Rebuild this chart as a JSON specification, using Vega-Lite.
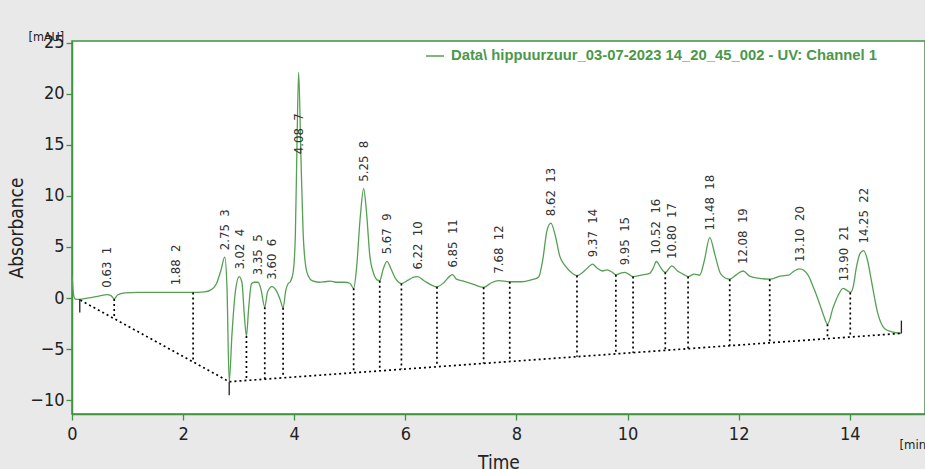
{
  "$schema": "https://vega.github.io/schema/vega-lite/v6.json",
  "width": 853,
  "height": 373,
  "autosize": {"type": "none"},
  "padding": {"left": 72, "top": 41, "right": 0, "bottom": 55},
  "background": "#e9e9e9",
  "config": {
    "view": {"fill": "white", "stroke": "#3f943f", "strokeWidth": 1.5},
    "axis": {
      "grid": false,
      "domainColor": "#3f943f",
      "domainWidth": 1.5,
      "tickColor": "#3f943f",
      "tickSize": 6,
      "tickWidth": 1.3,
      "labelFont": "DejaVu Sans Condensed, DejaVu Sans",
      "labelFontSize": 18,
      "labelColor": "#222222",
      "titleFont": "DejaVu Sans Condensed, DejaVu Sans",
      "titleFontSize": 19,
      "titleFontWeight": "normal",
      "titleColor": "#222222"
    }
  },
  "datasets": {
    "trace": [
      {"t": 0.0, "a": 2.2}, {"t": 0.03, "a": 0.3}, {"t": 0.06, "a": -0.1}, {"t": 0.12, "a": -0.12},
      {"t": 0.3, "a": 0.02}, {"t": 0.5, "a": 0.22}, {"t": 0.63, "a": 0.33}, {"t": 0.7, "a": 0.25},
      {"t": 0.76, "a": -0.08}, {"t": 0.82, "a": 0.3}, {"t": 0.95, "a": 0.5}, {"t": 1.2, "a": 0.56},
      {"t": 1.5, "a": 0.56}, {"t": 1.88, "a": 0.56}, {"t": 2.18, "a": 0.55}, {"t": 2.38, "a": 0.6},
      {"t": 2.5, "a": 0.8}, {"t": 2.6, "a": 1.4}, {"t": 2.68, "a": 2.7}, {"t": 2.75, "a": 4.0},
      {"t": 2.79, "a": 1.0}, {"t": 2.83, "a": -8.18}, {"t": 2.88, "a": -3.5}, {"t": 2.94, "a": 0.6},
      {"t": 3.01, "a": 2.1}, {"t": 3.06, "a": 1.5}, {"t": 3.1, "a": -1.5}, {"t": 3.14, "a": -3.7},
      {"t": 3.18, "a": -1.0}, {"t": 3.23, "a": 1.4}, {"t": 3.28, "a": 1.55}, {"t": 3.35, "a": 1.55},
      {"t": 3.4, "a": 0.9}, {"t": 3.47, "a": -0.9}, {"t": 3.52, "a": 0.6}, {"t": 3.6, "a": 1.12},
      {"t": 3.68, "a": 0.7}, {"t": 3.75, "a": -0.2}, {"t": 3.8, "a": -0.95}, {"t": 3.85, "a": 0.8},
      {"t": 3.89, "a": 1.4}, {"t": 3.93, "a": 1.6}, {"t": 3.98, "a": 2.5}, {"t": 4.02, "a": 6.0},
      {"t": 4.05, "a": 15.0}, {"t": 4.08, "a": 22.1}, {"t": 4.12, "a": 14.0}, {"t": 4.16, "a": 6.5},
      {"t": 4.21, "a": 3.0}, {"t": 4.26, "a": 2.1}, {"t": 4.32, "a": 1.7}, {"t": 4.45, "a": 1.55},
      {"t": 4.55, "a": 1.6}, {"t": 4.65, "a": 1.65}, {"t": 4.75, "a": 1.55}, {"t": 4.9, "a": 1.55},
      {"t": 5.0, "a": 1.45}, {"t": 5.07, "a": 0.95}, {"t": 5.12, "a": 2.8}, {"t": 5.19, "a": 8.0},
      {"t": 5.25, "a": 10.7}, {"t": 5.3, "a": 8.5}, {"t": 5.36, "a": 4.2}, {"t": 5.43, "a": 2.4},
      {"t": 5.5, "a": 1.75}, {"t": 5.54, "a": 1.7}, {"t": 5.6, "a": 2.8}, {"t": 5.67, "a": 3.6},
      {"t": 5.74, "a": 2.9}, {"t": 5.82, "a": 1.95}, {"t": 5.93, "a": 1.42}, {"t": 6.05, "a": 1.75},
      {"t": 6.15, "a": 2.05}, {"t": 6.22, "a": 2.1}, {"t": 6.35, "a": 1.65}, {"t": 6.5, "a": 1.2},
      {"t": 6.57, "a": 1.1}, {"t": 6.7, "a": 1.55}, {"t": 6.8, "a": 2.15}, {"t": 6.85, "a": 2.3},
      {"t": 6.92, "a": 1.85}, {"t": 7.05, "a": 1.65}, {"t": 7.2, "a": 1.4}, {"t": 7.3, "a": 1.2},
      {"t": 7.41, "a": 1.05}, {"t": 7.55, "a": 1.5}, {"t": 7.68, "a": 1.7}, {"t": 7.88, "a": 1.6},
      {"t": 8.1, "a": 1.6}, {"t": 8.25, "a": 1.75}, {"t": 8.4, "a": 2.05}, {"t": 8.47, "a": 3.6},
      {"t": 8.55, "a": 6.6}, {"t": 8.62, "a": 7.33}, {"t": 8.7, "a": 6.1}, {"t": 8.78, "a": 4.1},
      {"t": 8.88, "a": 3.15}, {"t": 9.0, "a": 2.45}, {"t": 9.09, "a": 2.2}, {"t": 9.2, "a": 2.55},
      {"t": 9.3, "a": 3.05}, {"t": 9.37, "a": 3.32}, {"t": 9.45, "a": 2.95}, {"t": 9.55, "a": 2.65},
      {"t": 9.63, "a": 2.75}, {"t": 9.72, "a": 2.55}, {"t": 9.79, "a": 2.28}, {"t": 9.88, "a": 2.45},
      {"t": 9.95, "a": 2.52}, {"t": 10.02, "a": 2.35}, {"t": 10.1, "a": 2.1}, {"t": 10.25, "a": 2.25},
      {"t": 10.4, "a": 2.42}, {"t": 10.46, "a": 2.9}, {"t": 10.52, "a": 3.58}, {"t": 10.6, "a": 2.95},
      {"t": 10.68, "a": 2.52}, {"t": 10.8, "a": 3.15}, {"t": 10.9, "a": 2.65}, {"t": 11.0, "a": 2.35},
      {"t": 11.09, "a": 2.1}, {"t": 11.2, "a": 2.35}, {"t": 11.3, "a": 2.25}, {"t": 11.38, "a": 3.6},
      {"t": 11.48, "a": 5.92}, {"t": 11.58, "a": 4.1}, {"t": 11.68, "a": 2.35}, {"t": 11.84, "a": 1.85},
      {"t": 11.95, "a": 2.25}, {"t": 12.08, "a": 2.65}, {"t": 12.2, "a": 2.15}, {"t": 12.35, "a": 1.95},
      {"t": 12.56, "a": 1.85}, {"t": 12.75, "a": 2.15}, {"t": 12.9, "a": 2.25}, {"t": 13.0, "a": 2.65},
      {"t": 13.1, "a": 2.85}, {"t": 13.25, "a": 2.25}, {"t": 13.35, "a": 1.0}, {"t": 13.46, "a": -0.6},
      {"t": 13.53, "a": -1.7}, {"t": 13.6, "a": -2.55}, {"t": 13.7, "a": -0.95}, {"t": 13.79, "a": 0.25},
      {"t": 13.88, "a": 0.95}, {"t": 13.95, "a": 0.75}, {"t": 14.01, "a": 0.55}, {"t": 14.06, "a": 1.05},
      {"t": 14.12, "a": 3.0}, {"t": 14.18, "a": 4.3}, {"t": 14.25, "a": 4.65}, {"t": 14.32, "a": 3.7},
      {"t": 14.39, "a": 1.7}, {"t": 14.51, "a": -1.6}, {"t": 14.63, "a": -3.0}, {"t": 14.76, "a": -3.3},
      {"t": 14.93, "a": -3.45}
    ],
    "baseline": [
      {"t": 0.15, "a": -0.2}, {"t": 2.83, "a": -8.18}, {"t": 14.93, "a": -3.45}
    ],
    "drops": [
      {"t": 0.76, "top": -0.08, "base": -2.04},
      {"t": 2.18, "top": 0.55, "base": -6.22},
      {"t": 3.14, "top": -3.7, "base": -8.04},
      {"t": 3.47, "top": -0.9, "base": -7.92},
      {"t": 3.8, "top": -0.95, "base": -7.79},
      {"t": 5.07, "top": 0.95, "base": -7.29},
      {"t": 5.54, "top": 1.7, "base": -7.11},
      {"t": 5.93, "top": 1.42, "base": -6.96},
      {"t": 6.57, "top": 1.1, "base": -6.71},
      {"t": 7.41, "top": 1.05, "base": -6.39},
      {"t": 7.88, "top": 1.6, "base": -6.2},
      {"t": 9.09, "top": 2.2, "base": -5.74},
      {"t": 9.79, "top": 2.28, "base": -5.46},
      {"t": 10.1, "top": 2.1, "base": -5.34},
      {"t": 10.68, "top": 2.52, "base": -5.12},
      {"t": 11.09, "top": 2.1, "base": -4.96},
      {"t": 11.84, "top": 1.85, "base": -4.67},
      {"t": 12.56, "top": 1.85, "base": -4.39},
      {"t": 13.6, "top": -2.55, "base": -3.99},
      {"t": 14.01, "top": 0.55, "base": -3.83}
    ],
    "ticks": [
      {"t": 0.14, "top": -0.1, "base": -1.4},
      {"t": 2.83, "top": -8.18, "base": -9.5},
      {"t": 14.93, "top": -2.2, "base": -3.45}
    ],
    "peaks": [
      {"peak": 1, "time": 0.63, "apex": 0.33, "label": "0.63\u00a0\u00a01"},
      {"peak": 2, "time": 1.88, "apex": 0.56, "label": "1.88\u00a0\u00a02"},
      {"peak": 3, "time": 2.75, "apex": 4.0, "label": "2.75\u00a0\u00a03"},
      {"peak": 4, "time": 3.02, "apex": 2.1, "label": "3.02\u00a0\u00a04"},
      {"peak": 5, "time": 3.35, "apex": 1.55, "label": "3.35\u00a0\u00a05"},
      {"peak": 6, "time": 3.6, "apex": 1.12, "label": "3.60\u00a0\u00a06"},
      {"peak": 7, "time": 4.08, "apex": 22.1, "label": "4.08\u00a0\u00a07"},
      {"peak": 8, "time": 5.25, "apex": 10.7, "label": "5.25\u00a0\u00a08"},
      {"peak": 9, "time": 5.67, "apex": 3.6, "label": "5.67\u00a0\u00a09"},
      {"peak": 10, "time": 6.22, "apex": 2.1, "label": "6.22\u00a0\u00a010"},
      {"peak": 11, "time": 6.85, "apex": 2.3, "label": "6.85\u00a0\u00a011"},
      {"peak": 12, "time": 7.68, "apex": 1.7, "label": "7.68\u00a0\u00a012"},
      {"peak": 13, "time": 8.62, "apex": 7.33, "label": "8.62\u00a0\u00a013"},
      {"peak": 14, "time": 9.37, "apex": 3.32, "label": "9.37\u00a0\u00a014"},
      {"peak": 15, "time": 9.95, "apex": 2.52, "label": "9.95\u00a0\u00a015"},
      {"peak": 16, "time": 10.52, "apex": 3.58, "label": "10.52\u00a0\u00a016"},
      {"peak": 17, "time": 10.8, "apex": 3.15, "label": "10.80\u00a0\u00a017"},
      {"peak": 18, "time": 11.48, "apex": 5.92, "label": "11.48\u00a0\u00a018"},
      {"peak": 19, "time": 12.08, "apex": 2.65, "label": "12.08\u00a0\u00a019"},
      {"peak": 20, "time": 13.1, "apex": 2.85, "label": "13.10\u00a0\u00a020"},
      {"peak": 21, "time": 13.9, "apex": 0.95, "label": "13.90\u00a0\u00a021"},
      {"peak": 22, "time": 14.25, "apex": 4.65, "label": "14.25\u00a0\u00a022"}
    ]
  },
  "layer": [
    {
      "data": {"name": "trace"},
      "mark": {"type": "line", "interpolate": "monotone", "strokeWidth": 1.3},
      "encoding": {
        "x": {
          "field": "t", "type": "quantitative",
          "scale": {"domain": [0, 15.355], "nice": false, "zero": false},
          "axis": {"values": [0, 2, 4, 6, 8, 10, 12, 14], "title": "Time", "labelPadding": 5, "titlePadding": 10, "labelFlush": false}
        },
        "y": {
          "field": "a", "type": "quantitative",
          "scale": {"domain": [-11.34, 25.15], "nice": false, "zero": false},
          "axis": {"values": [-10, -5, 0, 5, 10, 15, 20, 25], "title": "Absorbance", "labelPadding": 2, "titlePadding": 3}
        },
        "color": {
          "datum": "Data\\ hippuurzuur_03-07-2023 14_20_45_002 - UV: Channel 1",
          "scale": {"range": ["#55a055"]},
          "legend": {
            "orient": "none", "legendX": 353, "legendY": 5, "title": null, "padding": 0,
            "symbolType": "stroke", "symbolSize": 324, "symbolStrokeWidth": 1.5,
            "labelFont": "Liberation Sans", "labelFontSize": 14.8, "labelFontWeight": "bold",
            "labelColor": "#4a984a", "labelLimit": 800, "labelOffset": 6
          }
        }
      }
    },
    {
      "data": {"name": "baseline"},
      "mark": {"type": "line", "color": "black", "strokeWidth": 1.7, "strokeDash": [2, 3]},
      "encoding": {
        "x": {
          "field": "t", "type": "quantitative",
          "scale": {"domain": [0, 15.355], "nice": false, "zero": false},
          "axis": {"orient": "bottom", "title": "[min]", "labels": false, "ticks": false, "domain": false,
                   "titleX": 827, "titleY": 34, "titleAlign": "left", "titleBaseline": "alphabetic", "titleFontSize": 13}
        },
        "y": {
          "field": "a", "type": "quantitative",
          "scale": {"domain": [-11.34, 25.15], "nice": false, "zero": false},
          "axis": {"orient": "left", "title": "[mAU]", "labels": false, "ticks": false, "domain": false,
                   "titleAngle": 0, "titleX": -44, "titleY": -1, "titleAlign": "left", "titleBaseline": "alphabetic", "titleFontSize": 12.5}
        }
      }
    },
    {
      "data": {"name": "drops"},
      "mark": {"type": "rule", "color": "black", "strokeWidth": 1.7, "strokeDash": [2, 3]},
      "encoding": {
        "x": {"field": "t", "type": "quantitative", "scale": {"domain": [0, 15.355], "nice": false, "zero": false}, "axis": null},
        "y": {"field": "top", "type": "quantitative", "scale": {"domain": [-11.34, 25.15], "nice": false, "zero": false}, "axis": null},
        "y2": {"field": "base"}
      }
    },
    {
      "data": {"name": "ticks"},
      "mark": {"type": "rule", "color": "#222222", "strokeWidth": 1.3},
      "encoding": {
        "x": {"field": "t", "type": "quantitative", "scale": {"domain": [0, 15.355], "nice": false, "zero": false}, "axis": null},
        "y": {"field": "top", "type": "quantitative", "scale": {"domain": [-11.34, 25.15], "nice": false, "zero": false}, "axis": null},
        "y2": {"field": "base"}
      }
    },
    {
      "data": {"name": "peaks"},
      "transform": [{"filter": "datum.peak != 7"}],
      "mark": {"type": "text", "angle": 270, "align": "left", "baseline": "middle", "dx": 7,
               "font": "DejaVu Sans Condensed, DejaVu Sans", "fontSize": 13, "color": "#333333"},
      "encoding": {
        "x": {"field": "time", "type": "quantitative", "scale": {"domain": [0, 15.355], "nice": false, "zero": false}, "axis": null},
        "y": {"field": "apex", "type": "quantitative", "scale": {"domain": [-11.34, 25.15], "nice": false, "zero": false}, "axis": null},
        "text": {"field": "label"}
      }
    },
    {
      "data": {"name": "peaks"},
      "transform": [{"filter": "datum.peak == 7"}],
      "mark": {"type": "text", "angle": 270, "align": "left", "baseline": "middle", "dx": -82,
               "font": "DejaVu Sans Condensed, DejaVu Sans", "fontSize": 13, "color": "#333333"},
      "encoding": {
        "x": {"field": "time", "type": "quantitative", "scale": {"domain": [0, 15.355], "nice": false, "zero": false}, "axis": null},
        "y": {"field": "apex", "type": "quantitative", "scale": {"domain": [-11.34, 25.15], "nice": false, "zero": false}, "axis": null},
        "text": {"field": "label"}
      }
    }
  ],
  "resolve": {"axis": {"x": "independent", "y": "independent"}}
}
